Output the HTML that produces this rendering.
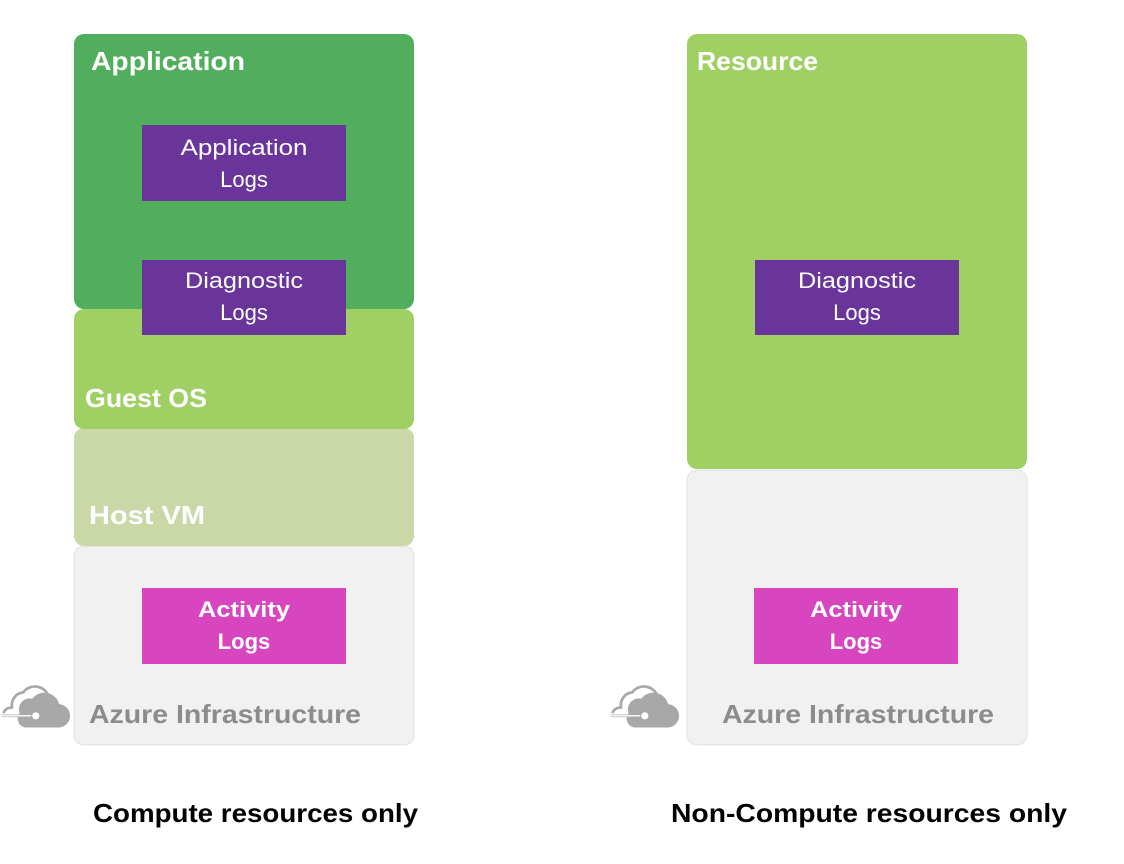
<!DOCTYPE html>
<html><head><meta charset="utf-8"><style>html,body{margin:0;padding:0;background:#fff;}svg{display:block}</style></head>
<body>
<svg width="1124" height="864" viewBox="0 0 1124 864" xmlns="http://www.w3.org/2000/svg" font-family="Liberation Sans, sans-serif">
<!-- Left stack -->
<rect x="74" y="546" width="340" height="199" rx="10" fill="#f1f1f1" stroke="#e0e0e0"/>
<rect x="74" y="428" width="340" height="118" rx="10" fill="#c9d8a6"/>
<rect x="74" y="309" width="340" height="120" rx="10" fill="#a0cf63"/>
<rect x="74" y="34" width="340" height="275" rx="10" fill="#51ae5c"/>
<rect x="142" y="125" width="204" height="76" fill="#6a359b"/>
<rect x="142" y="260" width="204" height="75" fill="#6a359b"/>
<rect x="142" y="588" width="204" height="76" fill="#d746bf"/>
<!-- Right stack -->
<rect x="687" y="470" width="340" height="275" rx="10" fill="#f1f1f1" stroke="#e0e0e0"/>
<rect x="687" y="34" width="340" height="435" rx="10" fill="#a0cf63"/>
<rect x="755" y="260" width="204" height="75" fill="#6a359b"/>
<rect x="754" y="588" width="204" height="76" fill="#d746bf"/>
<g fill="#fff" font-weight="bold" font-size="26">
<text x="91" y="70" textLength="154" lengthAdjust="spacingAndGlyphs">Application</text>
<text x="85" y="407" textLength="122" lengthAdjust="spacingAndGlyphs">Guest OS</text>
<text x="89" y="524" textLength="116" lengthAdjust="spacingAndGlyphs">Host VM</text>
<text x="697" y="70" textLength="121" lengthAdjust="spacingAndGlyphs">Resource</text>
</g>
<g fill="#fff" font-size="22" text-anchor="middle">
<text x="244" y="155" textLength="127" lengthAdjust="spacingAndGlyphs">Application</text>
<text x="244" y="187">Logs</text>
<text x="244" y="288" textLength="118" lengthAdjust="spacingAndGlyphs">Diagnostic</text>
<text x="244" y="320">Logs</text>
<text x="857" y="288" textLength="118" lengthAdjust="spacingAndGlyphs">Diagnostic</text>
<text x="857" y="320">Logs</text>
</g>
<g fill="#fff" font-size="22" font-weight="bold" text-anchor="middle">
<text x="244" y="617" textLength="92" lengthAdjust="spacingAndGlyphs">Activity</text>
<text x="244" y="649">Logs</text>
<text x="856" y="617" textLength="92" lengthAdjust="spacingAndGlyphs">Activity</text>
<text x="856" y="649">Logs</text>
</g>
<g fill="#8c8c8c" font-weight="bold" font-size="26">
<text x="89" y="723" textLength="272" lengthAdjust="spacingAndGlyphs">Azure Infrastructure</text>
<text x="722" y="723" textLength="272" lengthAdjust="spacingAndGlyphs">Azure Infrastructure</text>
</g>
<!-- clouds -->
<g id="c1" transform="translate(-2,3) scale(0.9) translate(2,76)">
<path d="M14 708 a14 14 0 0 1 12 -18 a16 16 0 0 1 28 4" fill="none" stroke="#a8a8a8" stroke-width="3"/>
<path d="M22 713 a12 12 0 0 1 14 -16 a17 17 0 0 1 30 6 a13 13 0 0 1 -2 26 h-36 a10 10 0 0 1 -6 -16z" fill="#a8a8a8"/>
<path d="M4 713 a9 9 0 0 1 10 -6 M2 716 h36" fill="none" stroke="#a8a8a8" stroke-width="3"/>
<circle cx="40" cy="716" r="5" fill="#fff" stroke="#a8a8a8" stroke-width="2"/>
<path d="M2 716 h33" stroke="#fff" stroke-width="1.5"/>
</g>
<use href="#c1" x="609" y="0"/>
<g fill="#000" font-weight="bold" font-size="26">
<text x="93" y="822" textLength="325" lengthAdjust="spacingAndGlyphs">Compute resources only</text>
<text x="671" y="822" textLength="396" lengthAdjust="spacingAndGlyphs">Non-Compute resources only</text>
</g>
</svg>
</body></html>
